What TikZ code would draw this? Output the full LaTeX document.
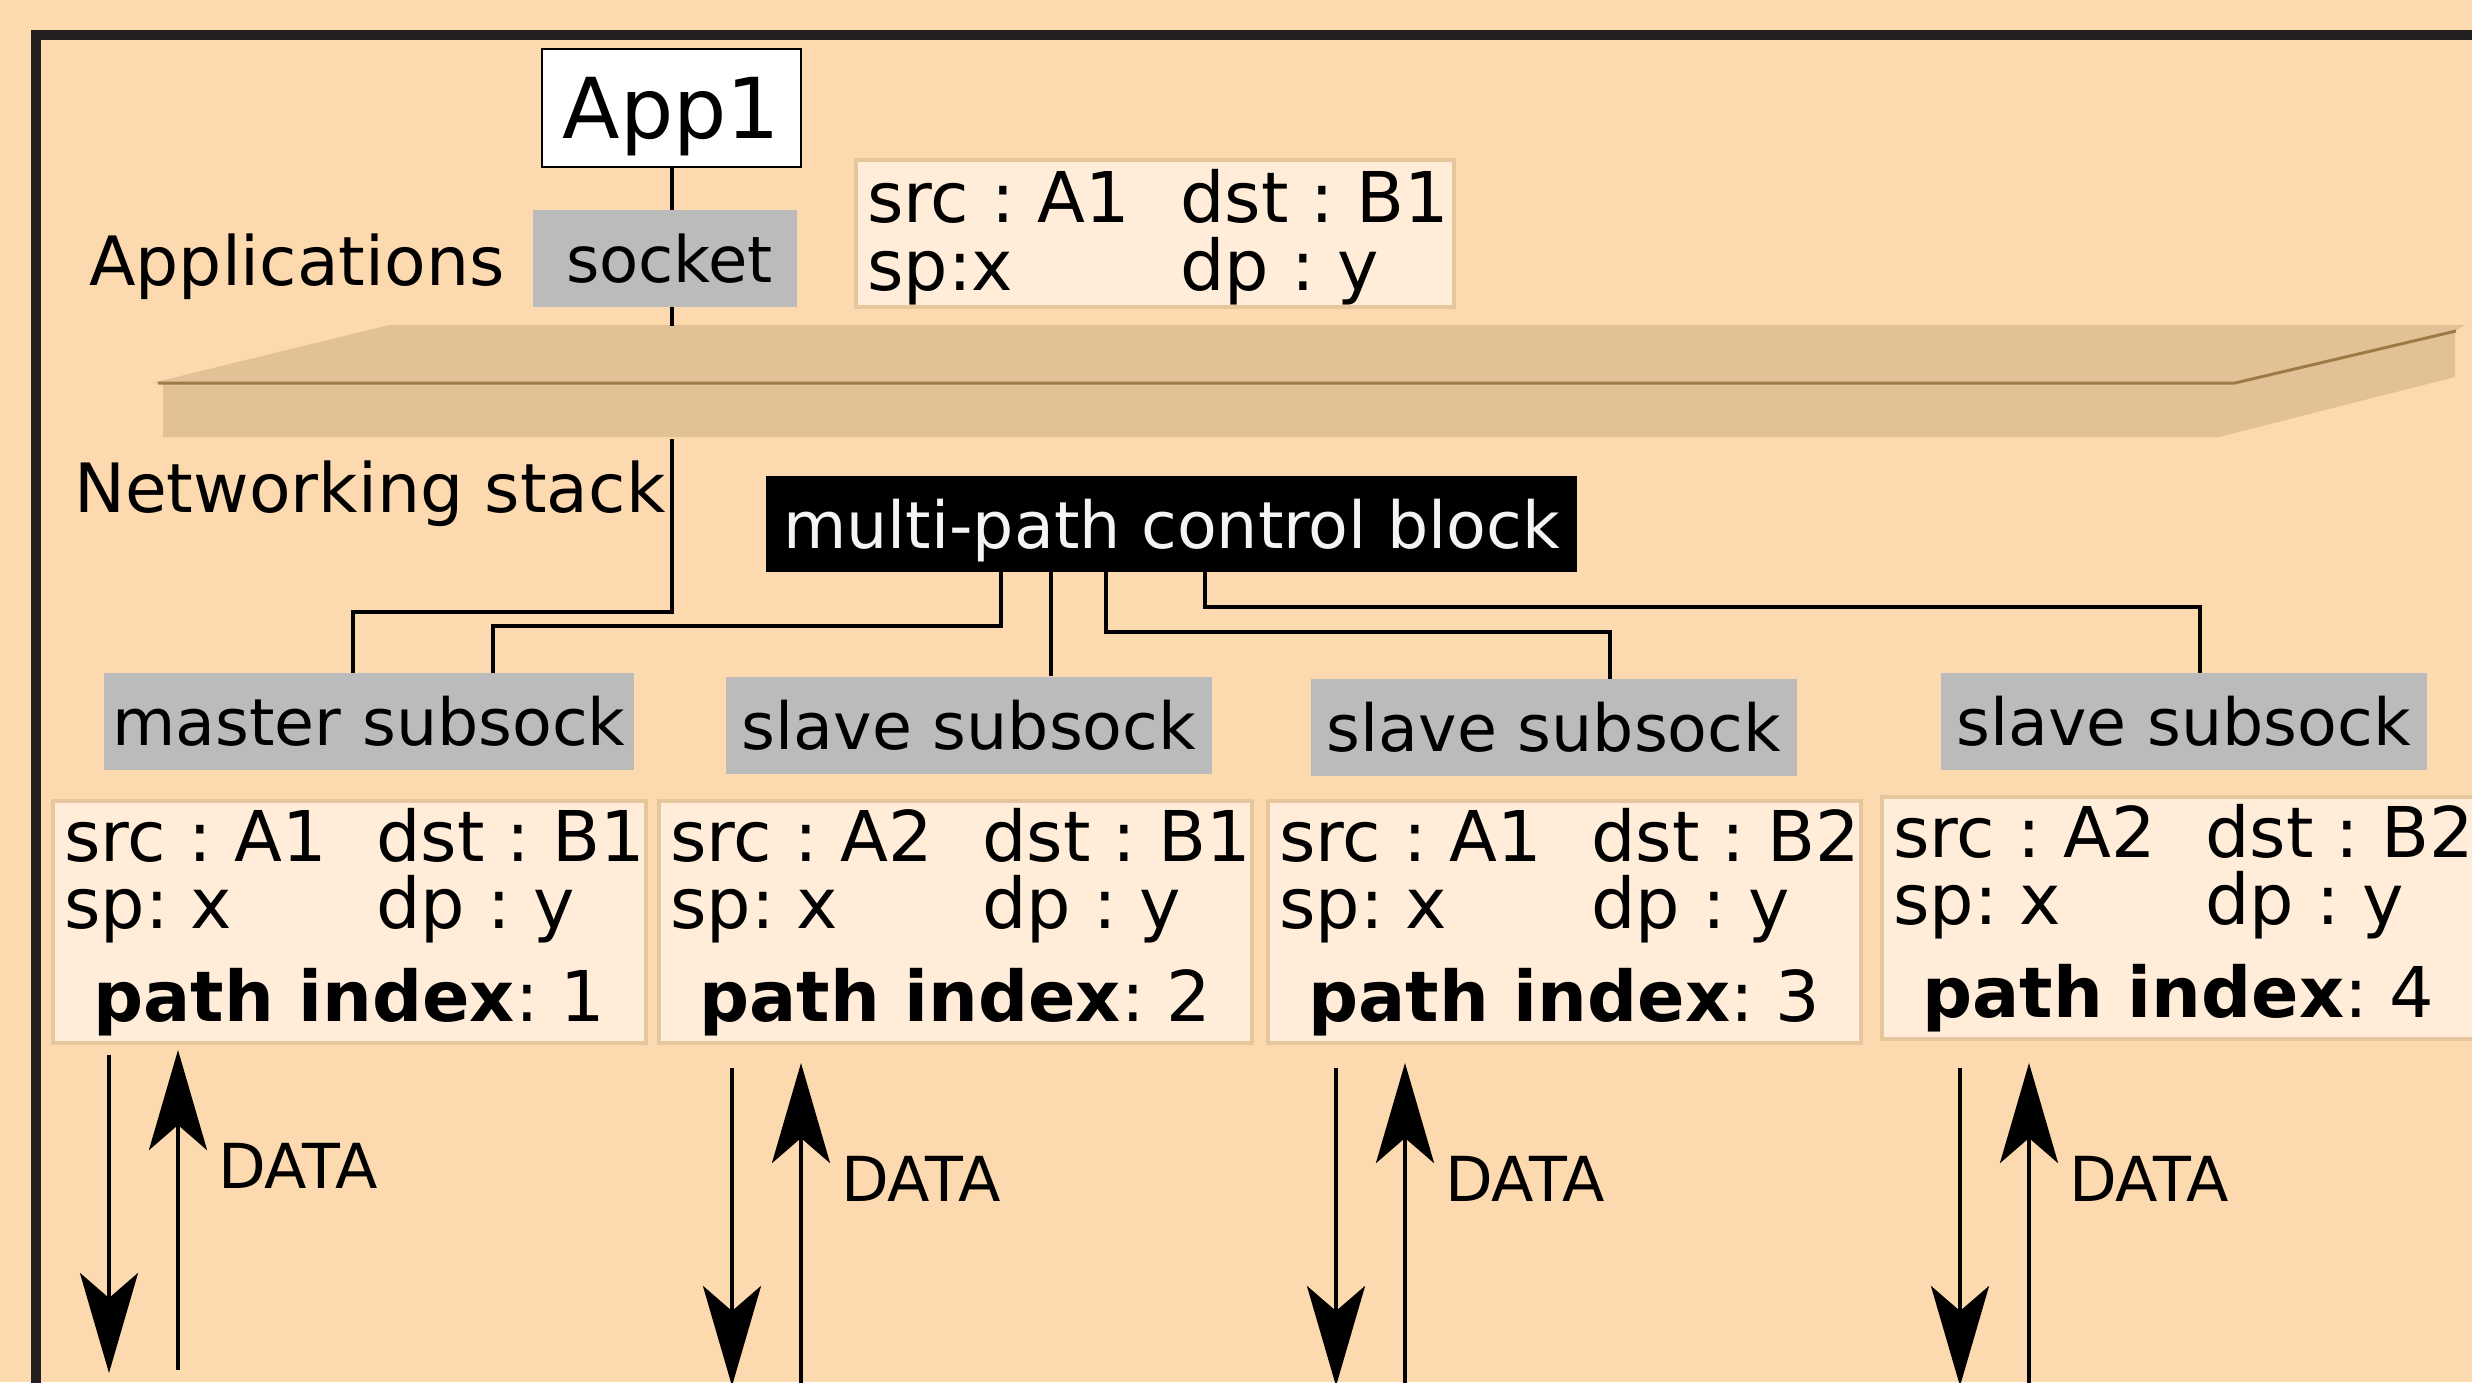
\documentclass[tikz,border=0pt]{standalone}
\usepackage{fontspec}
\setmainfont{DejaVu Sans}
\usetikzlibrary{arrows.meta}
\frenchspacing

\definecolor{peach}{HTML}{FDD9B0}
\definecolor{framecol}{HTML}{231F20}
\definecolor{slabfill}{HTML}{E3C197}
\definecolor{slabedge}{HTML}{9C7B47}
\definecolor{boxgray}{HTML}{BBBBBB}
\definecolor{infofill}{HTML}{FFEDD9}
\definecolor{infoedge}{HTML}{E6C69D}
\definecolor{mpcbtext}{HTML}{F4F4F4}

\tikzset{
  wire/.style={line width=4pt},
  dataflow/.style={line width=4.5pt, -{Stealth[length=100pt,width=58pt,inset=25pt]}},
  graybox/.style={fill=boxgray, inner sep=0pt, minimum height=97pt, font=\fontsize{65}{65}\selectfont},
  infobox/.style={fill=infofill, draw=infoedge, line width=4pt, anchor=north west,
    minimum width=593pt, minimum height=242pt, inner sep=0pt},
  infotext/.style={anchor=base west, inner sep=0pt, font=\fontsize{70}{70}\selectfont},
  sidetext/.style={anchor=base west, inner sep=0pt, font=\fontsize{68}{68}\selectfont}
}

\begin{document}
\begin{tikzpicture}[x=1pt, y=-1pt]
  \useasboundingbox (0,0) rectangle (2472,1382);
  \clip (0,0) rectangle (2472,1382);
  \fill[peach] (0,0) rectangle (2472,1382);
  \draw[framecol, line width=10pt] (36,1400) -- (36,35) -- (2490,35);

  % user space
  \node[draw, fill=white, line width=2pt, minimum width=259pt, minimum height=118pt,
    inner sep=0pt, text depth=0pt, font=\fontsize{84}{84}\selectfont] (app) at (671.5,108) {App1};
  \node[graybox, minimum width=264pt, font=\fontsize{64}{64}\selectfont] (socket) at (665,258.5)
    {\hspace*{9pt}socket};
  \node[sidetext] (apps) at (89,285) {Applications};
  \node[infobox, minimum width=598pt, minimum height=147pt] (conn) at (854,158) {};
  \node[infotext] (connsrc) at (867,222) {src : A1};
  \node[infotext] (conndst) at (1180,222) {dst : B1};
  \node[infotext] (connsp) at (867,290) {sp:x};
  \node[infotext] (conndp) at (1180,290) {dp : y};

  % kernel boundary
  \fill[slabfill] (389,325) -- (2465,325) -- (2455,331) -- (2455,377) -- (2219,437)
    -- (163,437) -- (163,383) -- (152,383) -- cycle;
  \draw[slabedge, line width=3pt] (158,383) -- (2235,383) -- (2456,331);
  \coordinate (stacktop) at (671.5,326);
  \coordinate (stackbot) at (671.5,439);
  \node[sidetext] (netstack) at (74,512) {Networking stack};

  \node[fill=black, text=mpcbtext, minimum width=811pt, minimum height=96pt, inner sep=0pt,
    text depth=0pt, font=\fontsize{65}{65}\selectfont] (mpcb) at (1171.5,524) {multi-path control block};

  % subsockets
  \node[graybox, minimum width=530pt] (sub1) at (369,721.5) {master subsock};
  \foreach \i/\x/\y in {2/969/725, 3/1554/727.5, 4/2183.5/721.5}
    \node[graybox, minimum width=486pt] (sub\i) at (\x,\y) {slave subsock};

  \foreach \i/\x/\y/\src/\dst in {1/51/799/A1/B1, 2/657/799/A2/B1, 3/1266/799/A1/B2, 4/1880/795/A2/B2} {
    \node[infobox] (info\i) at (\x,\y) {};
    \node[infotext] (src\i) at ([shift={(13,62)}]info\i.north west) {src : \src};
    \node[infotext] (dst\i) at ([shift={(325,62)}]info\i.north west) {dst : \dst};
    \node[infotext] (sp\i) at ([shift={(13,129)}]info\i.north west) {sp: x};
    \node[infotext] (dp\i) at ([shift={(325,129)}]info\i.north west) {dp : y};
    \node[infotext, anchor=base] (idx\i) at ([shift={(0,222)}]info\i.north) {\textbf{path index}: \i};
  }

  % connections
  \draw[wire] (app.south) -- (app.south |- socket.north);
  \draw[wire] (app.south |- socket.south) -- (stacktop);
  \draw[wire] (stackbot) -- ++(0,173) -| ([xshift=-16pt]sub1.north);
  \coordinate (tap0) at ([xshift=-171pt]mpcb.south);
  \coordinate (tap1) at ([xshift=-121pt]mpcb.south);
  \coordinate (tap2) at ([xshift=-66pt]mpcb.south);
  \coordinate (tap3) at ([xshift=33pt]mpcb.south);
  \draw[wire] (tap0) -- ++(0,54) -| ([xshift=124pt]sub1.north);
  \draw[wire] (tap1) -- (tap1 |- sub2.north);
  \draw[wire] (tap2) -- ++(0,60) -| ([xshift=56pt]sub3.north);
  \draw[wire] (tap3) -- ++(0,35) -| ([xshift=16pt]sub4.north);

  % data in both directions
  \foreach \i/\ax/\ay in {1/109/1055, 2/732/1068, 3/1336/1068, 4/1960/1068} {
    \coordinate (out\i) at (\ax,\ay);
    \coordinate (in\i) at (\ax+69,\ay-5);
    \draw[dataflow] (out\i) -- ++(0,318);
    \draw[dataflow] (in\i) ++(0,320) -- (in\i);
    \node[anchor=base west, inner sep=0pt, font=\fontsize{62}{62}\selectfont] (data\i)
      at ([shift={(40,138)}]in\i) {DATA};
  }
\end{tikzpicture}
\end{document}
